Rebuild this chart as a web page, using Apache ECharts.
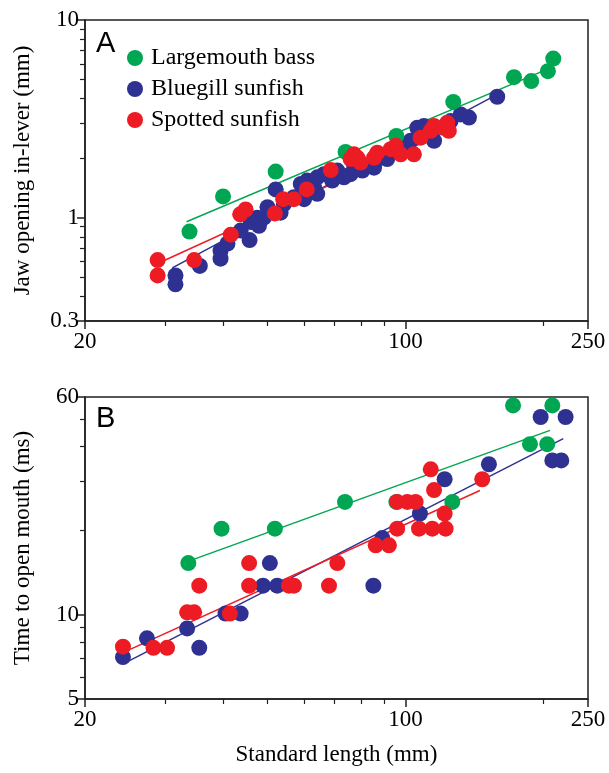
<!DOCTYPE html>
<html><head><meta charset="utf-8">
<script src="https://cdn.jsdelivr.net/npm/echarts@6/dist/echarts.min.js"></script>
<style>html,body{margin:0;padding:0;background:#fff}#c{width:609px;height:773px}</style>
</head><body><div id="c"></div>
<script>
const seriesNames = ['Largemouth bass', 'Bluegill sunfish', 'Spotted sunfish'];
const xMajor = [20, 100, 250];
const xMinor = [30, 40, 50, 60, 70, 80, 90, 200];
const yMajorA = [0.3, 1, 10];
const yMinorA = [0.4, 0.5, 0.6, 0.7, 0.8, 0.9, 2, 3, 4, 5, 6, 7, 8, 9];
const yMajorB = [5, 10, 60];
const yMinorB = [6, 7, 8, 9, 20, 30, 40, 50];

// Panel A: jaw opening in-lever (mm) vs standard length (mm)
const bassA = [[33.8,0.85],[40.0,1.28],[52.1,1.71],[74.0,2.15],[95.5,2.59],[127.1,3.85],[172.4,5.14],[188,4.91],[204.4,5.51],[210,6.38]];
const bluegillA = [[31.5,0.51],[31.5,0.46],[35.6,0.57],[39.5,0.62],[39.5,0.68],[40.9,0.74],[45.7,0.77],[43.7,0.86],[46.0,0.95],[47.9,0.91],[47.5,1.0],[49.1,1.0],[50.0,1.13],[53.4,1.06],[54.3,1.17],[52.1,1.39],[57.1,1.27],[60.1,1.24],[59.1,1.48],[61.0,1.54],[63.2,1.42],[64.2,1.32],[64.2,1.60],[66.4,1.66],[69.2,1.54],[71.0,1.73],[73.4,1.60],[75.9,1.66],[77.2,1.86],[80.5,1.73],[84.0,1.86],[85.4,1.79],[88.3,2.01],[91.2,1.98],[95.9,2.18],[99.2,2.35],[102.6,2.45],[106.1,2.85],[109.7,2.91],[113.5,2.69],[115.4,2.45],[125.4,3.08],[131.9,3.33],[137.5,3.21],[158.5,4.09]];
const spottedA = [[28.8,0.61],[28.8,0.51],[34.6,0.61],[41.6,0.82],[43.6,1.04],[44.8,1.10],[51.9,1.05],[54.1,1.24],[57.1,1.24],[60.9,1.39],[68.7,1.74],[75.9,1.98],[77.2,2.09],[78.5,2.01],[79.8,1.90],[85.4,2.01],[86.8,2.13],[92.8,2.22],[95.2,2.31],[97.6,2.09],[104.3,2.09],[107.9,2.54],[113.5,2.75],[115.4,2.91],[121.3,2.85],[123.3,3.02],[124.3,2.75]];
const bassFitA = [[33.3,0.954],[204,5.64]];
const bluegillFitA = [[31.0,0.557],[154.5,4.07]];
const spottedFitA = [[29.2,0.595],[124,2.75]];

// Panel B: time to open mouth (ms) vs standard length (mm)
const bassB = [[33.6,15.3],[39.7,20.3],[51.9,20.3],[73.8,25.3],[95.5,25.3],[126.5,25.3],[171.6,56.0],[209.0,56.0],[186.8,40.7],[203.7,40.7]];
const bluegillB = [[24.2,7.06],[27.3,8.24],[33.4,8.94],[35.5,7.62],[40.5,10.1],[43.7,10.1],[50.6,15.3],[48.9,12.7],[52.5,12.7],[85.1,12.7],[89.0,18.8],[107.5,23.0],[121.7,30.5],[152.0,34.5],[197.1,50.9],[223.4,50.9],[209.0,35.6],[218.6,35.6]];
const spottedB = [[24.2,7.69],[28.2,7.62],[30.2,7.62],[33.4,10.2],[34.6,10.2],[35.5,12.7],[41.4,10.1],[45.6,15.3],[45.6,12.7],[55.7,12.7],[57.1,12.7],[68.1,12.7],[71.0,15.3],[86.1,17.7],[92.0,17.7],[95.9,20.3],[95.9,25.3],[100.9,25.3],[105.2,25.3],[107.0,20.3],[114.4,20.3],[122.3,20.3],[121.7,23.0],[113.5,33.1],[115.4,27.9],[147.0,30.5]];
const bassFitB = [[34.6,15.8],[206.6,45.6]];
const bluegillFitB = [[24.1,6.65],[220.8,42.6]];
const spottedFitB = [[24.2,7.32],[145.3,27.8]];

const colors = {bass: '#00a651', bluegill: '#2e3192', spotted: '#ed1c24'};
const axisColor = '#231f20';
const serif = '"Liberation Serif", "Times New Roman", serif';
const L = v => Math.log10(v);
const LP = p => [L(p[0]), L(p[1])];
const fmt = v => String(+Math.pow(10, v).toPrecision(2));

function axisPair(kind, grid, min, max, major, minor, extra) {
  const main = Object.assign({
    type: 'value', gridIndex: grid, min: L(min), max: L(max),
    position: kind === 'x' ? 'bottom' : 'left',
    splitLine: {show: false},
    axisLine: {show: true, onZero: false, lineStyle: {color: axisColor, width: 1.5}},
    axisTick: {show: true, inside: false, length: 8, customValues: major.map(L), lineStyle: {color: axisColor, width: 1.5}},
    axisLabel: {show: true, customValues: major.map(L), formatter: fmt, color: '#000', fontFamily: serif, fontSize: 23, margin: kind === 'x' ? 9 : 6},
    nameTextStyle: {color: '#000', fontFamily: serif, fontSize: 23}
  }, extra || {});
  const sub = {
    type: 'value', gridIndex: grid, min: L(min), max: L(max),
    position: kind === 'x' ? 'bottom' : 'left',
    splitLine: {show: false},
    axisLine: {show: false, onZero: false},
    axisTick: {show: true, inside: false, length: 5, customValues: minor.map(L), lineStyle: {color: axisColor, width: 1.2}},
    axisLabel: {show: false}
  };
  return [main, sub];
}

const xAxes = [
  ...axisPair('x', 0, 20, 250, xMajor, xMinor),
  ...axisPair('x', 1, 20, 250, xMajor, xMinor, {name: 'Standard length (mm)', nameLocation: 'middle', nameGap: 44})
];
const yAxes = [
  ...axisPair('y', 0, 0.3, 10, yMajorA, yMinorA, {name: 'Jaw opening in-lever (mm)', nameLocation: 'middle', nameGap: 51}),
  ...axisPair('y', 1, 5, 60, yMajorB, yMinorB, {name: 'Time to open mouth (ms)', nameLocation: 'middle', nameGap: 51})
];

function fit(data, color, xi, yi) {
  return {type: 'line', xAxisIndex: xi, yAxisIndex: yi, data: data.map(LP), symbol: 'none', silent: true,
    lineStyle: {color: color, width: 1.5}, z: 1};
}
function pts(name, data, color, xi, yi, z) {
  return {type: 'scatter', name: name, xAxisIndex: xi, yAxisIndex: yi, data: data.map(LP), symbol: 'circle', symbolSize: 16,
    itemStyle: {color: color, opacity: 1}, z: z};
}

const series = [
  fit(bassFitA, colors.bass, 0, 0), fit(bluegillFitA, colors.bluegill, 0, 0), fit(spottedFitA, colors.spotted, 0, 0),
  pts(seriesNames[1], bluegillA, colors.bluegill, 0, 0, 2),
  pts(seriesNames[0], bassA, colors.bass, 0, 0, 3),
  pts(seriesNames[2], spottedA, colors.spotted, 0, 0, 4),
  fit(bassFitB, colors.bass, 2, 2), fit(bluegillFitB, colors.bluegill, 2, 2), fit(spottedFitB, colors.spotted, 2, 2),
  pts(seriesNames[1], bluegillB, colors.bluegill, 2, 2, 2),
  pts(seriesNames[0], bassB, colors.bass, 2, 2, 3),
  pts(seriesNames[2], spottedB, colors.spotted, 2, 2, 4)
];

const chart = echarts.init(document.getElementById('c'), null, {renderer: 'canvas'});
chart.setOption({
  animation: false,
  backgroundColor: '#fff',
  grid: [
    {left: 85, right: 21, top: 20, height: 301, show: true, borderColor: axisColor, borderWidth: 1.5, backgroundColor: 'transparent', containLabel: false},
    {left: 85, right: 21, top: 397, height: 302, show: true, borderColor: axisColor, borderWidth: 1.5, backgroundColor: 'transparent', containLabel: false}
  ],
  xAxis: xAxes,
  yAxis: yAxes,
  legend: {
    data: seriesNames, orient: 'vertical', left: 122, top: 41, itemWidth: 22, itemHeight: 16, itemGap: 7,
    icon: 'circle', selectedMode: false,
    textStyle: {color: '#000', fontFamily: serif, fontSize: 24}
  },
  graphic: [
    {type: 'text', left: 96, top: 29, style: {text: 'A', font: '29px "Liberation Sans", Arial, sans-serif', fill: '#000'}},
    {type: 'text', left: 96, top: 404, style: {text: 'B', font: '29px "Liberation Sans", Arial, sans-serif', fill: '#000'}}
  ],
  series: series
});
</script></body></html>
